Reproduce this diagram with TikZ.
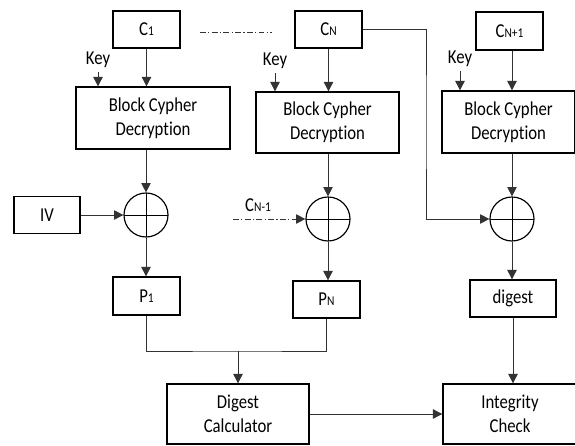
\documentclass[tikz,border=0pt]{standalone}
\usepackage{fontspec}
\setmainfont{Carlito}[Ligatures=NoCommon,FakeStretch=0.85]
\usetikzlibrary{arrows.meta}
\newcommand{\lowidx}[1]{{\fontsize{11.5}{12}\selectfont #1}}
\begin{document}
\begin{tikzpicture}[x=0.03cm,y=-0.03cm,
  font=\fontsize{16.8}{20.5}\selectfont,
  >={Triangle[length=8pt,width=8pt]},
  blk/.style={draw,line width=1.1pt,inner sep=0pt,align=center},
  xorsym/.style={draw,circle,line width=1pt,minimum size=1.32cm,inner sep=0pt,
    path picture={\draw[line width=0.6pt] (path picture bounding box.north) -- (path picture bounding box.south)
      (path picture bounding box.west) -- (path picture bounding box.east);}},
  wire/.style={draw=black!80,line width=0.7pt},
  gap/.style={draw=black!80,line width=0.8pt,dash pattern=on 5pt off 2pt on 1pt off 2pt}]
\useasboundingbox (0,0) rectangle (575,446);

% cipher blocks
\node[blk, minimum width=2.01cm, minimum height=1.11cm] (c1) at (146.5,29.5) {C\lowidx{1}};
\node[blk, minimum width=2.01cm, minimum height=1.11cm] (cN) at (328.5,29.5) {C\lowidx{N}};
\node[blk, minimum width=2.01cm, minimum height=1.14cm] (cN1) at (509.5,31) {C\lowidx{N+1}};

% decryption
\node[blk, minimum width=4.62cm, minimum height=1.86cm] (bcd1) at (153,118) {Block Cypher\\Decryption};
\node[blk, minimum width=4.29cm, minimum height=1.83cm] (bcd2) at (327.5,122.5) {Block Cypher\\Decryption};
\node[blk, minimum width=3.99cm, minimum height=1.86cm] (bcd3) at (508.5,122) {Block Cypher\\Decryption};

\node (key1) at (98,60) {Key};
\node (key2) at (275,61) {Key};
\node (key3) at (460,59) {Key};

% xor stages
\node[xorsym] (x1) at (146,215) {};
\node[xorsym] (x2) at (328,219) {};
\node[xorsym] (x3) at (512,219) {};

\node[blk, minimum width=1.98cm, minimum height=1.11cm] (iv) at (47,215) {IV};
\node (cprev) at (258,205) {C\lowidx{N-1}};
\coordinate (cprevin) at (233,219);
\coordinate (cNturn) at (426,120);

% plaintext blocks
\node[blk, minimum width=2.01cm, minimum height=1.14cm] (p1) at (146.5,296) {P\lowidx{1}};
\node[blk, minimum width=2.01cm, minimum height=1.11cm] (pN) at (326.5,299.5) {P\lowidx{N}};
\node[blk, minimum width=2.58cm, minimum height=1.11cm] (dg) at (513,298.5) {digest};

\coordinate (merge) at (238,351);
\node[blk, minimum width=4.26cm, minimum height=1.8cm] (dc) at (238,414) {Digest\\Calculator};
\node[blk, minimum width=4.02cm, minimum height=1.8cm] (ic) at (510,414) {Integrity\\Check};

% gap between the first and last blocks
\path[gap] (200,32) -- (272,32);

\path[wire,->] (c1) -- (c1 |- bcd1.north);
\path[wire,->] (cN) -- (cN |- bcd2.north);
\path[wire,->] (cN1.south -| x3) -- (x3 |- bcd3.north);
\path[wire,->] (key1.south) -- (key1.south |- bcd1.north);
\path[wire,->] (key2.south) -- (key2.south |- bcd2.north);
\path[wire,->] (key3.south) -- (key3.south |- bcd3.north);

\path[wire,->] (bcd1.south -| x1) -- (x1.north);
\path[wire,->] (bcd2.south -| x2) -- (x2.north);
\path[wire,->] (bcd3.south -| x3) -- (x3.north);

\path[wire,->] (iv) -- (x1.west);
\path[gap,->] (cprevin) -- (x2.west);
\path[wire,->] (cN.east) -| (cNturn) |- (x3.west);

\path[wire,->] (x1.south) -- (p1.north -| x1);
\path[wire,->] (x2.south) -- (pN.north -| x2);
\path[wire,->] (x3.south) -- (dg.north -| x3);

\path[wire] (p1.south) |- (merge) -| (pN.south);
\path[wire,->] (merge) -- (dc.north);
\path[wire,->] (dc.east) -- (ic.west);
\path[wire,->] (dg.south) -- (dg.south |- ic.north);
\end{tikzpicture}
\end{document}
